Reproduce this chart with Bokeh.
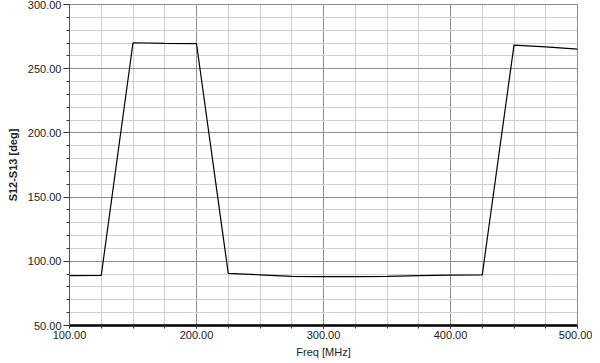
from bokeh.plotting import figure
from bokeh.models import Range1d, SingleIntervalTicker, CustomJSTickFormatter, ColumnDataSource
from bokeh.embed import file_html
from bokeh.resources import INLINE

freq = [100, 125, 150, 175, 200, 225, 250, 275, 300, 325, 350, 375, 400, 425, 450, 475, 500]
phase = [88.8, 89.0, 270.2, 269.8, 269.6, 90.6, 89.5, 88.3, 88.0, 88.0, 88.3, 88.8, 89.3, 89.4, 268.4, 267.0, 265.2]

x_label = "Freq [MHz]"
y_label = "S12-S13 [deg]"

p = figure(width=596, height=364, output_backend="svg", toolbar_location=None,
           x_range=Range1d(100, 500), y_range=Range1d(50, 300),
           min_border_left=73, min_border_right=15, min_border_top=8, min_border_bottom=27)
p.margin = (-4, 0, 0, -4)
p.background_fill_color = "white"
p.border_fill_color = "white"
p.outline_line_color = "#8a8a8a"
p.outline_line_width = 1

src = ColumnDataSource(dict(x=freq, y=phase))
p.line("x", "y", source=src, line_color="black", line_width=1.2)

p.xaxis.ticker = SingleIntervalTicker(interval=100, num_minor_ticks=4)
p.yaxis.ticker = SingleIntervalTicker(interval=50, num_minor_ticks=5)
fmt = CustomJSTickFormatter(code="return tick.toFixed(2);")
p.xaxis.formatter = fmt
p.yaxis.formatter = fmt

p.xgrid.grid_line_color = "#8c8c8c"
p.ygrid.grid_line_color = "#8c8c8c"
p.xgrid.minor_grid_line_color = "#cfcfcf"
p.ygrid.minor_grid_line_color = "#cfcfcf"

for ax in (p.xaxis[0], p.yaxis[0]):
    ax.major_label_text_font = "Liberation Sans"
    ax.major_label_text_font_size = "11px"
    ax.major_label_text_color = "#222222"
    ax.axis_label_text_font = "Liberation Sans"
    ax.axis_label_text_font_size = "11px"
    ax.axis_label_text_color = "#222222"
    ax.major_tick_line_color = "#333333"
    ax.minor_tick_line_color = "#333333"

p.xaxis.axis_label = x_label
p.xaxis.axis_label_text_font_style = "normal"
p.xaxis.axis_line_color = "black"
p.xaxis.axis_line_width = 2.5
p.xaxis.major_tick_out = 3
p.xaxis.major_tick_in = 0
p.xaxis.minor_tick_out = 3
p.xaxis.minor_tick_in = 0
p.xaxis.major_label_standoff = 2
p.xaxis.axis_label_standoff = 4

p.yaxis.axis_label = y_label
p.yaxis.axis_label_text_font_style = "bold"
p.yaxis.axis_line_color = "#555555"
p.yaxis.major_tick_out = 6
p.yaxis.major_tick_in = 0
p.yaxis.minor_tick_out = 3
p.yaxis.minor_tick_in = 0
p.yaxis.major_label_standoff = 2
p.yaxis.axis_label_standoff = 6

open("out.html", "w").write(file_html(p, INLINE))
